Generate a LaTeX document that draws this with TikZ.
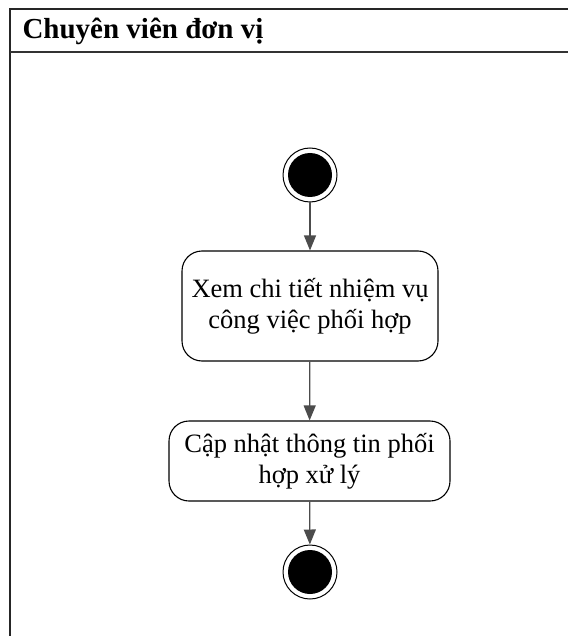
\documentclass[tikz,border=0pt]{standalone}
\usepackage{fontspec}
\setmainfont{Liberation Serif}
\usetikzlibrary{arrows.meta}
\begin{document}
\begin{tikzpicture}[x=1pt,y=-1pt,
  action/.style={draw=black,line width=1.1pt,rounded corners=20pt,align=center,
    font=\fontsize{26.5}{31}\selectfont,inner sep=0pt},
  startnode/.style={circle,fill=black,minimum size=44pt,inner sep=0pt},
  ring/.style={circle,draw=black,line width=1pt,minimum size=54pt,inner sep=0pt},
  flow/.style={draw=black!70,line width=1.2pt,-{Triangle[length=15pt,width=12pt]}}]
  \useasboundingbox (0,0) rectangle (567,636);
  % swimlane frame and header
  \draw[line width=2pt,black!85] (10,640) -- (10,9) -- (570,9);
  \draw[line width=1.2pt,black!80] (10,52) -- (570,52);
  \node[anchor=base west,font=\fontsize{29}{32}\selectfont\bfseries] (lane) at (19,39) {Chuyên viên đơn vị};
  % initial node
  \node[ring] (startring) at (310,175) {};
  \node[startnode] (start) at (310,175) {};
  % actions
  \node[action,minimum width=256pt,minimum height=110pt] (view) at (310,306)
    {Xem chi tiết nhiệm vụ\\công việc phối hợp};
  \node[action,minimum width=281pt,minimum height=80pt] (update) at (309.5,461)
    {Cập nhật thông tin phối\\hợp xử lý};
  % final node
  \node[ring] (endring) at (310,572) {};
  \node[startnode] (end) at (310,572) {};
  % flows
  \draw[flow] (startring) -- (view);
  \draw[flow] (view) -- (update);
  \draw[flow] (update) -- (endring);
\end{tikzpicture}
\end{document}
